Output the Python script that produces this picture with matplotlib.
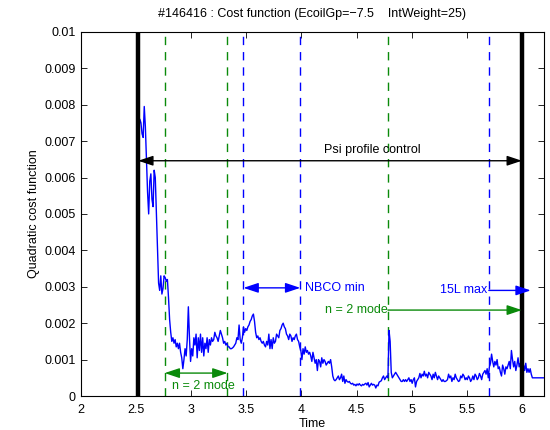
import matplotlib
matplotlib.use("Agg")
import matplotlib.pyplot as plt
import numpy as np

plt.rcParams['font.family'] = ['Liberation Sans', 'DejaVu Sans']

# ---- data ----
cost_e3 = [
    7.3, 7.6, 7.5, 7.2, 7.1, 7.95, 7.4, 6.5, 5.6, 5.0,
    5.9, 6.1, 5.4, 5.2, 6.2, 6.0, 5.0, 3.9, 3.1, 2.9,
    3.3, 2.8, 2.95, 3.3, 3.25, 3.15, 3.2, 2.7, 2.1, 1.75,
    1.5, 1.6, 1.45, 1.55, 1.35, 1.45, 1.3, 1.45, 1.2, 1.05,
    0.75, 1.0, 1.3, 1.1, 1.55, 2.45, 1.6, 0.95, 1.3, 1.1,
    1.6, 1.4, 1.7, 1.05, 1.6, 1.25, 1.7, 1.2, 1.6, 1.1,
    1.45, 1.3, 1.6, 1.2, 1.55, 1.4, 1.6, 1.5, 1.55, 1.75,
    1.65, 1.6, 1.5, 1.65, 1.8, 1.7, 1.6, 1.45, 1.5, 1.4,
    1.45, 1.35, 1.35, 1.3, 1.3, 1.32, 1.35, 1.4, 1.45, 1.6,
    1.55, 1.95, 1.55, 1.45, 1.6, 1.9, 1.75, 1.85, 1.8, 1.9,
    1.95, 2.05, 2.1, 2.2, 2.25, 2.05, 1.75, 1.6, 1.65, 1.55,
    1.6, 1.5, 1.45, 1.5, 1.4, 1.35, 1.5, 1.4, 1.7, 1.3,
    1.55, 1.3, 1.6, 1.45, 1.5, 1.7, 1.65, 1.6, 1.8, 1.85,
    1.95, 2.0, 1.9, 1.85, 1.7, 1.65, 1.55, 1.7, 1.65, 1.5,
    1.6, 1.55, 1.65, 1.7, 1.55, 1.5, 1.35, 1.25, 1.0, 1.3,
    1.15, 1.35, 1.2, 1.25, 1.15, 1.2, 1.1, 0.95, 1.2, 1.05,
    0.9, 1.0, 0.7, 1.0, 0.95, 0.8, 1.05, 0.9, 1.0, 0.95,
    0.85, 0.9, 0.95, 0.9, 1.0, 0.8, 0.55, 0.45, 0.42, 0.45,
    0.5, 0.55, 0.45, 0.5, 0.6, 0.4, 0.55, 0.35, 0.45, 0.4,
    0.38, 0.4, 0.35, 0.33, 0.35, 0.3, 0.32, 0.28, 0.33, 0.3,
    0.34, 0.3, 0.28, 0.32, 0.3, 0.33, 0.35, 0.3, 0.37, 0.25,
    0.3, 0.35, 0.3, 0.32, 0.3, 0.22, 0.3, 0.28, 0.38, 0.4,
    0.42, 0.5, 0.55, 0.45, 0.5, 0.55, 0.5, 1.8, 1.5, 0.65,
    0.5, 0.55, 0.6, 0.65, 0.6, 0.55, 0.5, 0.45, 0.4, 0.4,
    0.45, 0.4, 0.45, 0.4, 0.45, 0.5, 0.4, 0.45, 0.35, 0.45,
    0.5, 0.25, 0.4, 0.45, 0.5, 0.62, 0.5, 0.6, 0.55, 0.68,
    0.55, 0.6, 0.5, 0.65, 0.6, 0.55, 0.45, 0.6, 0.5, 0.65,
    0.55, 0.45, 0.55, 0.5, 0.45, 0.4, 0.45, 0.4, 0.4, 0.42,
    0.45, 0.6, 0.5, 0.55, 0.4, 0.5, 0.45, 0.6, 0.5, 0.45,
    0.4, 0.42, 0.55, 0.5, 0.6, 0.55, 0.45, 0.5, 0.45, 0.55,
    0.5, 0.4, 0.45, 0.55, 0.45, 0.6, 0.55, 0.45, 0.5, 0.62,
    0.55, 0.45, 0.6, 0.65, 0.7, 0.6, 0.75, 0.5, 0.8, 0.9,
    1.15, 0.95, 0.8, 0.95, 0.85, 1.0, 0.75, 0.8, 0.65, 0.55,
    0.85, 0.75, 0.6, 0.8, 0.75, 0.85, 0.95, 0.75, 1.25, 1.0,
    0.8, 0.95, 0.7, 0.85, 1.05, 0.8, 0.9, 0.65, 0.8, 0.85,
    0.7, 0.9, 0.65, 0.75, 0.65, 0.75, 0.6, 0.5, 0.5,
]
t_first = 2.525
t_step = 0.01
t_last = 6.2
time = [round(t_first + t_step * i, 3) for i in range(len(cost_e3) - 1)] + [t_last]
cost = [v * 1e-3 for v in cost_e3]

control_window = [2.52, 6.0]
green_marks = [2.76, 3.33, 4.785]
blue_marks = [3.475, 3.99, 5.70]

xticks = [2, 2.5, 3, 3.5, 4, 4.5, 5, 5.5, 6]
xticklabels = ['2', '2.5', '3', '3.5', '4', '4.5', '5', '5.5', '6']
yticks = [0, 0.001, 0.002, 0.003, 0.004, 0.005, 0.006, 0.007, 0.008, 0.009, 0.01]
yticklabels = ['0', '0.001', '0.002', '0.003', '0.004', '0.005', '0.006',
               '0.007', '0.008', '0.009', '0.01']

GREEN = '#0a8a0a'
BLUE = '#0000ff'

fig = plt.figure(figsize=(5.5, 4.3), dpi=100)
ax = fig.add_axes([0.147, 0.079, 0.842, 0.847])

ax.plot(time, cost, color=BLUE, lw=1.0, zorder=3)

for xv in control_window:
    ax.axvline(xv, color='black', lw=3.2, zorder=4)
for xv in green_marks:
    ax.axvline(xv, color=GREEN, lw=1.0, ls=(0, (6, 5)), zorder=2)
for xv in blue_marks:
    ax.axvline(xv, color=BLUE, lw=1.0, ls=(0, (6, 5)), zorder=2)

def arrow(x0, x1, y, color, both=True, lw=1.0):
    style = '<|-|>' if both else '-|>'
    ax.annotate('', xy=(x1, y), xytext=(x0, y),
                arrowprops=dict(arrowstyle=style + ',head_length=0.9,head_width=0.3',
                                color=color, lw=lw, shrinkA=0, shrinkB=0),
                zorder=5)

# Psi profile control
arrow(control_window[0], control_window[1], 0.00646, 'black')
ax.text(4.64, 0.00676, 'Psi profile control', ha='center', va='center', fontsize=9)

# NBCO min
arrow(blue_marks[0], blue_marks[1], 0.00297, BLUE)
ax.text(4.03, 0.00297, 'NBCO min', ha='left', va='center', fontsize=9, color=BLUE)

# 15L max
arrow(blue_marks[2], 6.08, 0.0029, BLUE, both=False)
ax.text(5.69, 0.0029, '15L max', ha='right', va='center', fontsize=9, color=BLUE)

# n = 2 mode (late)
arrow(green_marks[2], control_window[1], 0.00236, GREEN, both=False)
ax.text(green_marks[2], 0.00236, 'n = 2 mode', ha='right', va='center', fontsize=9, color=GREEN)

# n = 2 mode (early)
arrow(green_marks[0], green_marks[1], 0.00063, GREEN)
ax.text(3.115, 0.00028, 'n = 2 mode', ha='center', va='center', fontsize=9, color=GREEN)

ax.set_xlim(2, 6.2)
ax.set_ylim(0, 0.01)
ax.set_xticks(xticks)
ax.set_xticklabels(xticklabels)
ax.set_yticks(yticks)
ax.set_yticklabels(yticklabels)
ax.tick_params(direction='in', top=True, right=True, labelsize=9, length=4, width=0.6)
ax.tick_params(axis='x', pad=6)
for s in ax.spines.values():
    s.set_linewidth(0.8)

ax.set_xlabel('Time', fontsize=9, labelpad=1)
ax.set_ylabel('Quadratic cost function', fontsize=9, labelpad=3)
ax.set_title('#146416 : Cost function (EcoilGp=\u22127.5    IntWeight=25)', fontsize=9, pad=11)

fig.savefig('out.png', dpi=100)
